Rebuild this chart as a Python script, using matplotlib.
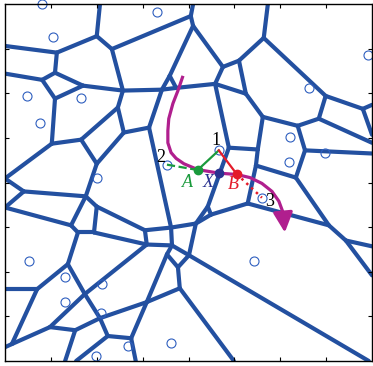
import numpy as np
import matplotlib
matplotlib.use('Agg')
import matplotlib.pyplot as plt
from matplotlib.collections import LineCollection

# Voronoi-like cell edges: vertex coordinates and edge list (index pairs)
vx = [2.07, 2.00, 1.13, 0.00, 2.33, 2.57, 1.09, 0.81, 0.00, 1.70,
      1.09, 2.46, 1.02, 1.66, 2.00, 2.59, 3.14, 4.05, 4.10, 4.10,
      3.59, 4.75, 5.10, 5.25, 4.58, 3.42, 3.73, 5.62, 4.88, 5.64,
      5.73, 6.99, 7.80, 8.00, 8.00, 6.84, 6.38, 5.51, 5.47, 6.34,
      6.54, 8.00, 5.29, 4.42, 4.49, 4.16, 7.06, 7.43, 8.00, 8.00,
      3.05, 3.09, 3.62, 3.64, 3.53, 3.77, 4.01, 3.81, 3.09, 2.75,
      2.85, 4.99, 7.93, 0.00, 0.41, 0.00, 1.76, 1.44, 1.59, 1.94,
      2.00, 1.37, 0.70, 0.00, 0.15, 0.00, 1.74, 2.07, 2.24, 0.98,
      1.53, 1.31, 1.55, 8.00]
vy = [8.00, 7.28, 6.91, 7.06, 6.99, 6.06, 6.46, 6.30, 6.44, 6.17,
      5.88, 5.68, 4.87, 4.96, 4.42, 5.12, 5.23, 7.73, 8.00, 7.51,
      6.39, 6.59, 6.73, 5.99, 6.21, 6.08, 6.12, 5.47, 4.78, 7.24,
      8.00, 5.94, 5.65, 5.74, 5.07, 5.43, 5.27, 4.74, 4.38, 4.11,
      4.72, 4.65, 3.53, 3.46, 3.28, 3.08, 3.04, 2.70, 2.57, 1.92,
      2.93, 2.61, 2.99, 2.59, 2.39, 2.10, 2.37, 1.63, 1.32, 0.51,
      0.00, 0.00, 0.00, 4.09, 3.80, 3.44, 3.69, 3.04, 2.88, 2.88,
      3.46, 2.17, 1.61, 1.61, 0.38, 0.31, 1.50, 0.96, 0.56, 0.76,
      0.69, 0.00, 0.00, 4.89]
edges = [(0, 1), (1, 2), (2, 3), (1, 4), (4, 5), (2, 6), (6, 7), (8, 7),
         (6, 9), (9, 5), (7, 10), (10, 9), (5, 11), (10, 12), (12, 13),
         (13, 11), (13, 14), (11, 15), (14, 15), (15, 16), (16, 25),
         (16, 52), (4, 17), (18, 17), (17, 19), (19, 20), (19, 21),
         (21, 22), (22, 29), (22, 23), (21, 24), (24, 23), (23, 27),
         (20, 25), (20, 26), (25, 26), (26, 24), (5, 25), (24, 28),
         (29, 30), (29, 31), (31, 32), (32, 33), (32, 34), (31, 35),
         (35, 83), (35, 36), (27, 36), (27, 37), (28, 37), (37, 38),
         (38, 39), (38, 42), (36, 40), (40, 41), (40, 39), (39, 46),
         (42, 46), (46, 47), (47, 48), (47, 49), (28, 43), (43, 44),
         (44, 42), (43, 45), (44, 45), (45, 52), (45, 56), (14, 66),
         (12, 63), (63, 64), (64, 65), (64, 66), (66, 70), (66, 67),
         (65, 67), (67, 68), (68, 69), (69, 70), (70, 50), (69, 51),
         (50, 51), (50, 52), (52, 53), (51, 53), (51, 76), (53, 54),
         (53, 56), (54, 55), (55, 56), (55, 57), (54, 58), (57, 58),
         (57, 61), (56, 62), (58, 59), (58, 77), (59, 60), (59, 78),
         (68, 71), (71, 72), (73, 72), (72, 74), (74, 75), (71, 76),
         (76, 77), (77, 78), (74, 79), (79, 80), (79, 76), (80, 77),
         (80, 81), (78, 82)]

# generator sites
site_x = [0.81, 1.05, 0.48, 1.66, 0.76, 3.31, 6.62, 7.91, 6.21, 6.19,
          6.97, 4.66, 3.53, 5.60, 2.00, 0.52, 1.31, 1.31, 2.11, 2.09,
          1.98, 2.68, 3.62, 5.42]
site_y = [8.00, 7.26, 5.94, 5.90, 5.34, 7.82, 6.12, 6.86, 5.01, 4.45,
          4.67, 4.72, 4.40, 3.66, 4.09, 2.23, 1.88, 1.32, 1.72, 1.07,
          0.11, 0.34, 0.40, 2.23]

# highlighted sites 1, 2, 3 and points A, X, B
s1 = (4.66, 4.72)
s2 = (3.53, 4.40)
s3 = (5.60, 3.66)
pA = (4.20, 4.28)
pX = (4.66, 4.21)
pB = (5.05, 4.19)

# magenta trajectory
path_x = [3.88, 3.77, 3.66, 3.57, 3.55, 3.55, 3.62, 3.73, 3.90, 4.20,
          4.66, 5.05, 5.34, 5.60, 5.82, 5.97, 6.06]
path_y = [6.39, 6.06, 5.77, 5.43, 5.16, 4.89, 4.67, 4.54, 4.42, 4.29,
          4.21, 4.18, 4.11, 3.98, 3.80, 3.58, 3.33]
arrow_tip = (6.10, 2.88)

edge_color = '#2350a0'
site_color = '#2f5fbf'
magenta = '#b01f8e'
green = '#1a9a3c'
red = '#e41b2a'
navy = '#2a3290'

fig = plt.figure(figsize=(3.73, 3.66), dpi=100)
ax = fig.add_axes([5 / 373, 5 / 366, 367 / 373, 357 / 366])

segs = [[(vx[i], vy[i]), (vx[j], vy[j])] for i, j in edges]
ax.add_collection(LineCollection(segs, colors=edge_color, linewidths=3.0,
                                 capstyle='round', joinstyle='round', zorder=1))

ax.plot(site_x, site_y, 'o', ms=6.5, mfc='none', mec=site_color, mew=0.8,
        zorder=2, clip_on=False)

# path with arrow
ax.plot(path_x, path_y, color=magenta, lw=2.3, zorder=3, solid_capstyle='butt')
ax.annotate('', xy=arrow_tip, xytext=(path_x[-1], path_y[-1]),
            arrowprops=dict(arrowstyle='-|>,head_length=0.55,head_width=0.27',
                            color=magenta, lw=2.3, mutation_scale=22,
                            shrinkA=0, shrinkB=0), zorder=3)

# green and red construction lines
ax.plot([s2[0], pA[0]], [s2[1], pA[1]], '--', color=green, lw=1.6, zorder=4)
ax.plot([pA[0], s1[0]], [pA[1], s1[1]], '-', color=green, lw=1.6, zorder=4)
ax.plot([s1[0], pB[0]], [s1[1], pB[1]], '-', color=red, lw=1.6, zorder=4)
ax.plot([pB[0], s3[0]], [pB[1], s3[1]], ':', color=red, lw=1.8, zorder=4)

ax.plot(*pA, 'o', ms=6, color=green, zorder=5)
ax.plot(*pX, 'o', ms=6, color=navy, zorder=5)
ax.plot(*pB, 'o', ms=6, color=red, zorder=5)

serif = ['Liberation Serif', 'DejaVu Serif']
ax.text(4.60, 4.94, '1', fontsize=13, family=serif, ha='center', va='center', zorder=6)
ax.text(3.40, 4.56, '2', fontsize=13, family=serif, ha='center', va='center', zorder=6)
ax.text(5.77, 3.58, '3', fontsize=13, family=serif, ha='center', va='center', zorder=6)
ax.text(3.97, 4.00, 'A', fontsize=13, family=serif, style='italic', color=green,
        ha='center', va='center', zorder=6)
ax.text(4.42, 4.00, 'X', fontsize=13, family=serif, style='italic', color=navy,
        ha='center', va='center', zorder=6)
ax.text(4.97, 3.96, 'B', fontsize=13, family=serif, style='italic', color=red,
        ha='center', va='center', zorder=6)

ax.set_xlim(0, 8)
ax.set_ylim(0, 8)
ax.set_xticks(np.arange(1, 8))
ax.set_yticks(np.arange(1, 8))
ax.set_xticklabels([])
ax.set_yticklabels([])
ax.tick_params(direction='in', length=3, width=0.8, top=True, right=True)
for sp in ax.spines.values():
    sp.set_linewidth(1.0)

fig.savefig('out.png', dpi=100)
